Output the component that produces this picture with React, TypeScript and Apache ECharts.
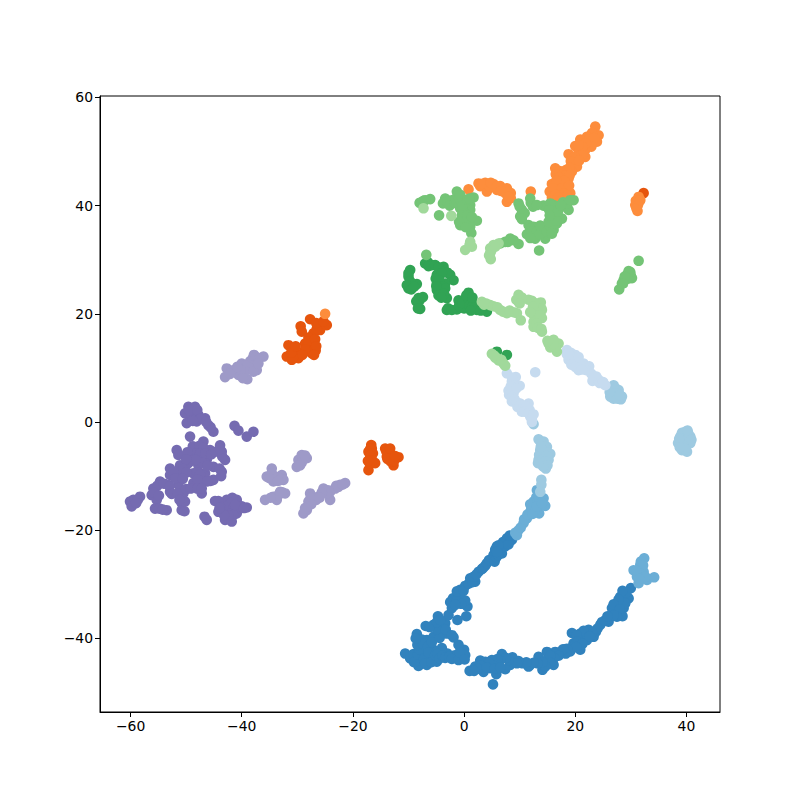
import React, { useEffect, useRef } from "react";
import * as echarts from "echarts";

const xTicks = [-60, -40, -20, 0, 20, 40];
const yTicks = [-40, -20, 0, 20, 40, 60];

const blueDark = [[30.0,-30.7],[28.1,-32.3],[29.6,-32.6],[26.6,-34.4],[28.7,-34.4],[27.5,-33.5],[26.3,-36.0],[28.5,-35.9],[27.2,-35.2],[24.5,-37.5],[26.0,-36.9],[23.3,-39.7],[22.4,-38.4],[20.9,-39.1],[19.4,-39.0],[22.1,-40.3],[19.7,-40.9],[20.9,-42.1],[19.1,-42.4],[21.0,-40.5],[17.6,-42.5],[16.4,-42.5],[14.9,-42.5],[13.4,-43.4],[16.1,-44.9],[14.1,-45.8],[14.9,-44.0],[11.9,-44.9],[10.5,-44.6],[8.7,-43.5],[6.8,-42.9],[8.3,-44.9],[6.2,-44.3],[7.4,-45.7],[5.3,-44.9],[5.8,-46.6],[5.2,-48.5],[3.8,-44.3],[2.9,-44.1],[3.5,-46.2],[2.0,-45.2],[1.0,-46.0],[4.7,-45.5],[11.6,-45.2],[0.0,-42.1],[0.2,-43.1],[-1.0,-41.2],[-0.4,-43.7],[-1.6,-43.1],[-1.9,-39.8],[-3.0,-42.8],[-4.0,-41.8],[-4.9,-44.3],[-6.7,-44.9],[-8.2,-45.1],[-6.1,-43.7],[-10.6,-42.8],[-9.7,-43.7],[-8.8,-44.3],[-7.6,-43.1],[-8.2,-40.9],[-8.5,-39.2],[-6.7,-40.3],[-5.5,-39.7],[-5.5,-42.1],[-4.0,-38.8],[-3.1,-39.1],[-6.9,-37.7],[-5.5,-37.5],[-4.0,-37.5],[-4.7,-35.9],[-3.4,-37.2],[-2.8,-35.7],[-1.2,-36.6],[0.4,-35.9],[0.6,-34.1],[-2.2,-34.4],[0.2,-33.0],[-2.0,-32.6],[-1.0,-32.0],[-0.7,-31.0],[0.2,-30.3],[1.1,-28.9],[2.0,-29.5],[2.6,-27.7],[3.8,-26.6],[5.3,-25.2],[5.9,-23.0],[5.3,-24.6],[6.8,-24.3],[7.7,-21.5],[7.4,-23.0],[8.6,-21.8],[-8.0,-42.5],[-7.0,-42.0],[-7.5,-41.5],
[29.2,-31.5],[28.5,-31.2],[29.0,-33.5],[27.8,-32.8],[27.0,-34.8],[26.9,-33.7],[28.0,-34.6],[27.5,-36.0],[26.9,-35.8],[25.3,-36.7],[24.8,-37.0],[25.8,-35.9],[23.7,-38.8],[24.0,-38.2],[23.0,-38.8],[22.0,-39.2],[21.5,-38.6],[20.2,-39.4],[20.3,-40.6],[21.3,-41.0],[22.6,-39.6],[19.5,-41.6],[20.2,-41.6],[18.5,-41.9],[18.3,-42.8],[17.8,-42.0],[17.0,-43.2],[16.2,-43.6],[15.5,-43.2],[15.5,-44.5],[14.6,-45.2],[14.1,-44.4],[13.2,-44.6],[12.5,-44.5],[11.2,-44.4],[9.8,-44.2],[9.5,-44.6],[8.0,-44.0],[7.5,-43.6],[6.5,-44.0],[6.0,-43.8],[5.0,-44.0],[4.5,-44.5],[3.0,-45.0],[2.6,-45.6],[4.1,-45.4],[5.5,-45.6],[6.5,-45.4],[1.8,-46.0],
[-9.1,-42.9],[-9.0,-44.4],[-8.3,-43.0],[-8.1,-42.0],[-8.4,-41.2],[-7.6,-40.2],[-7.4,-41.0],[-7.2,-43.8],[-7.0,-44.6],[-6.5,-41.5],[-6.4,-42.6],[-5.9,-44.4],[-5.8,-40.7],[-5.2,-43.1],[-4.8,-42.9],[-4.4,-43.7],[-3.9,-43.2],[-3.4,-43.6],[-2.7,-43.4],[-2.2,-43.8],[-1.0,-44.0],[-0.8,-42.6],[0.1,-43.9],[-8.7,-40.0],[-4.4,-39.9],[-4.9,-38.3],[-3.3,-38.4],[-6.2,-37.9],[-4.9,-37.0],[-4.3,-36.6],[-2.2,-39.4],
[-2.5,-33.3],[-1.3,-33.0],[-0.5,-33.6],[-1.6,-33.8],[-1.3,-31.3],[-0.1,-31.2],[0.8,-29.9],[1.5,-29.6],[1.7,-28.6],[2.2,-28.2],[3.2,-27.2],[3.4,-27.0],[4.1,-26.1],[4.5,-25.5],[5.5,-25.8],[5.8,-25.0],[6.1,-24.6],[5.6,-23.6],[6.3,-23.5],[6.6,-23.2],[7.0,-22.8],[7.0,-22.2],[8.0,-22.6],[8.2,-21.0],[6.2,-22.8],[5.9,-24.0]];
const blueMid = [[32.4,-25.2],[31.7,-26.4],[30.5,-27.4],[32.3,-27.7],[31.1,-28.6],[32.9,-29.2],[34.2,-28.7],[31.4,-29.8],[9.2,-20.5],[14.3,-14.1],[14.6,-15.5],[13.5,-16.9],[11.9,-15.2],[12.8,-15.0],[13.1,-12.6],[11.9,-16.6],[11.3,-17.8],[10.7,-18.7],[9.8,-20.0],
[9.5,-20.9],[10.2,-19.5],[10.8,-18.0],[11.4,-17.1],[12.1,-15.9],[12.5,-14.7],[13.0,-13.9],[13.5,-14.0],[13.9,-15.4],[12.9,-16.3],[12.3,-17.0],[13.1,-15.6],[14.0,-15.0],[31.8,-25.8],[32.2,-26.5],[31.4,-27.8],[32.0,-28.2],[32.6,-28.6],[31.0,-27.5],[31.5,-29.0]];
const blueLight = [[39.8,-1.8],[38.9,-2.7],[40.7,-2.7],[38.5,-3.9],[40.7,-3.9],[39.2,-5.2],[40.1,-5.5],[39.8,-3.3],[39.6,-4.6],[26.9,6.8],[27.8,5.9],[28.4,4.7],[28.2,4.2],[26.3,4.7],[27.2,5.0],[12.5,-0.4],[13.4,-3.2],[14.3,-3.6],[14.9,-4.6],[15.5,-5.9],[13.7,-5.2],[13.4,-7.0],[15.2,-7.0],[14.7,-8.6],[14.0,-7.6],[14.0,-6.1],[13.9,-10.7],[13.9,-11.6],[13.7,-12.9],
[39.2,-2.0],[40.3,-2.0],[39.2,-3.5],[40.1,-4.2],[39.0,-4.2],[40.4,-3.2],[40.2,-1.6],[38.7,-3.1],[39.8,-5.0],[38.8,-4.7],[40.9,-3.3],[26.6,6.1],[27.3,6.2],[27.6,5.3],[26.9,4.3],[27.6,4.3],[26.2,5.5],[28.0,5.0],[13.8,-3.8],[14.4,-4.6],[14.6,-5.4],[15.0,-5.6],[14.9,-6.3],[13.5,-6.1],[14.0,-7.0],[14.6,-7.3],[15.0,-8.0],[14.2,-8.2],[13.8,-4.6],[13.3,-7.6]];
const bluePale = [[18.5,13.3],[20.0,12.4],[18.8,11.5],[19.7,11.8],[20.6,9.6],[21.5,10.8],[22.5,10.3],[22.0,9.6],[23.3,8.4],[23.1,7.6],[25.4,6.8],[24.2,7.8],[12.8,9.2],[7.7,9.0],[9.3,8.3],[8.6,7.5],[10.0,6.7],[8.0,5.8],[8.9,5.3],[8.6,3.8],[10.1,3.4],[11.6,3.4],[10.4,1.9],[11.8,2.2],[11.9,1.0],[12.2,0.0],[9.6,2.8],
[19.2,12.8],[19.0,12.3],[20.3,11.3],[19.3,10.6],[20.0,10.2],[20.9,10.8],[21.2,9.7],[18.5,12.5],[20.6,12.0],[23.8,8.4],[24.4,7.2],[25.0,7.4],[22.9,8.9],[8.6,8.2],[8.9,6.8],[8.4,6.6],[9.4,6.2],[8.1,5.0],[8.6,4.6],[9.1,4.2],[9.5,3.6],[10.0,3.0],[10.7,3.0],[11.1,2.8],[11.4,2.4],[10.9,1.9],[11.6,1.6],[12.2,0.5],[12.5,1.4]];
const orangeDark = [[32.3,42.3],[-27.7,19.0],[-29.4,17.7],[-25.9,17.9],[-24.7,17.9],[-29.2,16.7],[-27.1,16.4],[-25.9,17.0],[-27.4,14.9],[-28.6,14.5],[-27.1,13.6],[-31.6,14.2],[-30.7,13.3],[-31.9,12.1],[-29.8,11.8],[-31.0,11.5],[-27.4,12.7],[-28.3,13.9],[-16.7,-4.25],[-17.2,-5.5],[-16.9,-6.7],[-17.2,-8.9],[-16.0,-7.6],[-14.2,-4.9],[-13.6,-5.5],[-13.0,-6.4],[-11.8,-6.5],[-12.7,-8.0],[-13.9,-6.4],[-17.0,-7.6],[-16.6,-4.9],
[-26.5,17.2],[-26.6,18.3],[-25.3,18.6],[-28.0,15.6],[-28.0,14.9],[-26.8,15.3],[-26.7,13.2],[-27.9,13.1],[-28.6,13.4],[-29.5,12.5],[-30.5,12.5],[-30.8,11.9],[-31.1,12.8],[-29.1,12.4],[-26.6,14.0],[-27.0,12.4],[-30.3,14.0],[-16.9,-5.0],[-16.4,-5.8],[-16.9,-6.2],[-16.5,-7.1],[-17.3,-7.2],[-14.0,-5.4],[-13.3,-4.9],[-13.8,-6.8],[-13.2,-7.3],[-12.6,-7.2],[-12.4,-6.3]];
const orangeMid = [[23.6,54.6],[24.2,53.0],[23.0,53.4],[22.1,52.7],[23.9,51.8],[22.7,51.5],[20.9,52.2],[20.0,51.0],[21.8,50.3],[20.6,49.7],[18.8,49.5],[21.8,49.0],[19.7,47.8],[20.3,47.2],[16.4,46.9],[17.9,46.3],[19.4,46.3],[17.6,45.0],[18.8,45.0],[15.8,44.0],[17.0,43.8],[18.5,43.5],[15.4,42.6],[17.3,42.6],[19.1,42.3],[15.8,41.5],[17.9,41.3],[2.6,44.1],[3.8,44.2],[5.3,44.0],[6.5,43.6],[7.7,43.2],[4.1,42.6],[5.9,42.9],[7.4,42.3],[8.4,42.3],[7.7,40.7],[0.8,43.0],[12.0,42.6],[31.4,41.6],[31.1,40.7],[30.8,40.1],[31.2,39.0],[-25.0,20.0],
[23.1,52.0],[22.5,52.2],[23.4,52.5],[22.9,50.9],[21.9,51.5],[21.3,50.9],[20.6,51.2],[21.2,49.3],[20.3,48.5],[19.9,49.0],[19.2,48.2],[19.0,47.0],[20.7,48.3],[18.4,46.6],[17.2,46.4],[16.5,45.8],[18.2,45.6],[19.0,45.6],[17.0,45.2],[18.0,44.6],[16.6,44.6],[16.0,43.2],[17.6,43.2],[18.9,43.7],[16.4,42.0],[18.0,42.2],[18.5,41.8],[16.9,41.5],[2.9,43.6],[3.2,44.0],[4.6,43.5],[4.8,44.2],[5.9,43.5],[7.2,43.0],[6.6,42.7],[8.4,41.4],[8.0,41.6],[30.9,40.9],[31.6,40.9],[31.3,40.2],[31.0,39.5],[31.7,41.0]];
const greenDark = [[-9.7,28.1],[-10.0,26.9],[-10.0,24.7],[-8.5,25.5],[-8.2,22.9],[-7.9,20.9],[-7.0,29.3],[-5.8,29.0],[-3.7,28.7],[-2.5,27.2],[-1.9,26.2],[-4.9,27.2],[-4.9,25.6],[-4.9,24.4],[-3.4,25.6],[-3.1,22.9],[0.8,23.9],[-1.0,22.5],[-3.1,20.7],[-1.3,20.8],[0.5,21.3],[2.3,20.7],[4.1,20.4],[1.4,22.5],[0.2,22.2],[7.7,12.4],[5.9,13.0],
[-10.0,27.5],[-9.7,26.0],[-10.3,25.3],[-9.5,24.5],[-9.0,25.0],[-8.0,22.5],[-8.6,22.3],[-7.4,23.1],[-8.3,21.0],[-6.5,29.5],[-6.4,28.8],[-5.2,29.0],[-4.6,28.6],[-3.5,27.9],[-3.0,27.6],[-4.0,27.5],[-5.1,26.5],[-4.5,26.2],[-3.9,25.0],[-3.4,24.7],[-5.0,25.1],[-4.6,23.4],[-3.6,23.7],[-4.1,23.0],[-2.9,21.0],[-2.2,20.7],[-0.6,21.2],[-0.9,21.5],[0.0,21.0],[-0.3,22.0],[0.8,22.7],[1.0,21.5],[1.6,21.5],[2.0,21.2],[1.2,20.6],[3.0,20.6],[0.4,23.4],[1.5,23.0]];
const greenMid = [[-6.8,30.9],[-6.1,41.2],[-7.3,40.9],[-8.0,40.5],[-4.5,38.2],[-3.4,41.3],[-1.3,42.6],[-2.2,41.0],[-0.4,41.0],[1.7,41.5],[1.1,40.1],[-0.7,39.5],[1.1,39.2],[-0.1,37.3],[0.8,37.0],[2.3,37.2],[-0.7,36.4],[1.1,36.1],[1.3,34.9],[6.5,33.0],[8.3,33.9],[9.8,32.9],[7.4,33.3],[9.8,40.4],[10.4,39.2],[10.1,38.0],[11.9,41.3],[12.4,39.8],[11.6,36.4],[11.3,34.7],[12.5,36.1],[12.8,33.9],[13.5,31.7],[14.3,35.8],[14.6,33.9],[16.1,35.5],[16.7,36.7],[16.1,38.0],[17.6,37.6],[16.4,39.5],[14.3,40.0],[16.1,40.1],[18.2,39.8],[19.7,41.0],[18.8,39.2],[31.4,29.8],[29.9,27.7],[29.3,27.2],[28.7,26.2],[30.2,26.6],[28.4,25.6],[27.9,24.5],
[-7.0,41.0],[-7.6,40.6],[-3.8,40.4],[-3.0,40.7],[-2.6,40.0],[-1.7,40.5],[-1.5,41.3],[-0.9,41.4],[-0.7,42.0],[0.0,40.4],[-0.4,38.2],[-0.1,38.8],[0.6,38.2],[-0.3,40.0],[0.6,41.1],[1.0,41.3],[0.0,36.9],[-0.9,37.0],[0.3,36.0],[1.4,37.9],[10.0,39.8],[10.9,38.6],[10.4,37.5],[12.0,40.5],[11.9,35.7],[12.2,35.2],[13.1,35.2],[11.9,34.0],[13.6,34.7],[13.7,36.3],[14.9,35.2],[15.5,36.2],[15.8,34.8],[15.2,37.0],[16.6,37.2],[15.5,40.4],[15.3,39.2],[16.9,38.9],[17.8,40.6],[18.6,40.4],[19.1,41.0],[17.4,40.1],[13.1,40.1],[15.4,38.2],[7.9,33.3],[8.9,33.6],[30.0,27.0],[29.6,27.9],[29.5,26.5],[28.9,26.9],[28.6,25.6]];
const greenLight = [[-7.3,39.5],[-2.3,38.1],[1.1,33.3],[1.4,32.4],[0.2,31.8],[5.3,32.7],[4.7,32.1],[4.7,31.2],[4.8,30.1],[6.2,33.0],[3.2,22.2],[4.7,21.6],[6.5,20.7],[7.7,20.1],[9.5,20.1],[10.2,18.8],[9.8,23.5],[9.8,22.2],[11.6,22.6],[13.4,21.6],[14.0,20.7],[13.1,20.1],[14.0,19.2],[12.5,18.5],[14.0,16.7],[12.5,17.6],[15.2,14.5],[16.1,15.2],[17.0,14.5],[16.7,13.0],[15.5,13.8],[5.0,12.6],[5.9,11.8],[7.1,10.8],[7.4,10.4],
[4.0,21.9],[3.6,21.7],[5.3,21.4],[6.0,21.2],[7.0,20.4],[8.2,20.6],[8.9,20.3],[10.4,23.0],[9.4,22.6],[10.0,21.9],[12.2,22.4],[12.7,22.0],[13.8,22.1],[13.9,21.0],[12.5,20.7],[12.4,21.3],[12.5,19.8],[13.4,19.0],[13.7,19.7],[13.0,18.2],[11.9,20.3],[13.3,17.4],[13.9,17.2],[15.7,14.2],[16.4,13.8],[16.1,14.4],[15.0,15.0],[5.6,11.9],[6.2,11.4],[6.7,11.5],[5.4,12.3],[1.0,32.8],[4.9,31.7],[5.6,32.4],[4.5,30.8]];
const purpleDark = [[-49.6,2.8],[-48.4,2.8],[-50.2,1.6],[-49.0,1.3],[-47.8,1.3],[-46.6,0.7],[-49.9,-0.2],[-48.1,0.1],[-46.0,-0.6],[-45.1,-1.8],[-49.3,-2.7],[-46.9,-3.6],[-41.3,-0.7],[-40.6,-1.6],[-39.1,-2.7],[-37.9,-1.8],[-51.7,-5.2],[-51.4,-6.1],[-48.7,-5.2],[-47.2,-5.2],[-45.7,-5.2],[-43.9,-4.3],[-43.6,-5.5],[-43.0,-7.0],[-49.3,-6.4],[-47.8,-6.4],[-46.3,-7.0],[-45.1,-8.3],[-52.9,-8.6],[-51.1,-8.0],[-49.6,-7.6],[-47.8,-8.0],[-52.9,-9.8],[-51.4,-9.8],[-48.7,-9.5],[-46.6,-9.5],[-43.6,-9.2],[-54.7,-11.0],[-55.9,-12.3],[-53.2,-11.6],[-51.4,-11.6],[-48.7,-11.3],[-47.2,-11.0],[-45.1,-10.7],[-56.2,-13.5],[-55.3,-14.4],[-52.9,-12.9],[-50.5,-13.2],[-47.2,-13.2],[-50.8,-15.0],[-50.8,-16.3],[-58.3,-13.8],[-59.5,-14.4],[-60.1,-14.7],[-59.8,-15.6],[-55.6,-16.0],[-53.5,-16.3],[-44.8,-14.6],[-46.7,-17.5],[-46.3,-18.1],[-42.7,-14.4],[-40.9,-14.4],[-39.1,-15.8],[-44.2,-16.6],[-42.7,-16.3],[-41.2,-16.0],[-43.0,-18.1],[-41.8,-18.4],[-40.9,-16.9],[-42.4,-15.4],[-40.0,-15.6],
[-48.9,1.9],[-49.5,2.2],[-48.0,2.2],[-47.4,0.6],[-48.8,0.2],[-45.6,-1.0],[-46.4,0.0],[-48.8,-4.5],[-47.6,-4.4],[-46.9,-4.8],[-48.2,-5.8],[-47.5,-5.9],[-46.5,-5.8],[-49.8,-5.6],[-45.5,-6.0],[-44.7,-5.5],[-43.5,-6.4],[-43.9,-5.0],[-48.8,-7.1],[-47.0,-7.6],[-46.2,-8.1],[-48.3,-7.0],[-50.0,-6.9],[-50.5,-8.7],[-49.9,-9.3],[-52.3,-9.2],[-51.9,-10.4],[-50.6,-10.5],[-47.9,-9.3],[-47.5,-9.7],[-47.9,-10.6],[-44.0,-8.6],[-43.7,-10.0],[-45.6,-10.9],[-46.2,-11.0],[-55.2,-11.8],[-54.0,-11.4],[-55.8,-13.1],[-54.9,-13.6],[-53.0,-11.9],[-52.6,-13.3],[-51.5,-13.2],[-50.0,-12.4],[-49.2,-12.3],[-48.0,-12.3],[-47.2,-12.3],[-50.2,-14.7],[-51.2,-14.4],[-50.3,-16.5],[-58.7,-14.4],[-59.0,-15.0],[-54.8,-16.0],[-54.2,-16.2],[-44.2,-14.6],[-41.7,-14.0],[-42.0,-15.0],[-41.5,-17.2],[-43.3,-15.6],[-43.8,-15.8],[-42.4,-17.3],[-43.2,-17.2],[-41.2,-15.3],[-39.6,-15.9],[-44.0,-15.9]];
const purpleMid = [[-37.8,12.4],[-36.1,12.1],[-38.5,11.2],[-40.0,10.8],[-42.7,9.9],[-41.2,9.6],[-38.5,9.9],[-43.0,8.3],[-40.6,8.7],[-39.0,7.9],[-37.3,9.6],[-39.4,10.5],[-29.2,-6.1],[-28.3,-6.7],[-29.8,-7.0],[-30.1,-8.3],[-34.6,-8.6],[-35.5,-10.1],[-34.0,-10.1],[-32.8,-9.8],[-32.5,-10.7],[-34.3,-11.0],[-33.1,-12.9],[-32.2,-13.2],[-34.3,-13.8],[-35.8,-14.4],[-33.7,-14.4],[-21.4,-11.3],[-22.3,-11.6],[-23.2,-12.3],[-25.3,-12.3],[-24.1,-12.9],[-24.1,-14.4],[-27.7,-13.2],[-26.2,-13.8],[-28.0,-14.7],[-28.3,-16.3],[-28.9,-16.9],[-27.1,-14.4],
[-38.9,10.5],[-38.0,11.8],[-37.4,12.0],[-39.4,9.4],[-40.2,9.6],[-41.8,9.5],[-42.1,8.9],[-39.8,8.1],[-37.9,9.3],[-36.9,11.7],[-37.0,10.8],[-40.8,10.2],[-29.0,-6.7],[-29.2,-7.5],[-28.6,-6.2],[-29.5,-8.0],[-34.6,-9.5],[-35.0,-10.4],[-33.4,-10.2],[-33.0,-10.7],[-33.5,-10.9],[-33.4,-13.5],[-34.8,-14.0],[-32.7,-13.0],[-23.0,-11.8],[-22.6,-12.0],[-24.5,-12.6],[-24.7,-13.2],[-25.6,-13.0],[-26.6,-14.4],[-27.6,-14.0],[-27.5,-15.2],[-28.1,-15.6],[-28.6,-15.9],[-26.0,-14.0],[-21.9,-11.6]];

const seriesData: [number[][], string][] = [
  [blueDark, "#3182bd"],
  [blueMid, "#6baed6"],
  [blueLight, "#9ecae1"],
  [bluePale, "#c6dbef"],
  [orangeDark, "#e6550d"],
  [orangeMid, "#fd8d3c"],
  [greenDark, "#31a354"],
  [greenMid, "#74c476"],
  [greenLight, "#a1d99b"],
  [purpleDark, "#756bb1"],
  [purpleMid, "#9e9ac8"],
];

const fmt = (v: number) => String(v).replace("-", "\u2212");

export default function App() {
  const ref = useRef<HTMLDivElement>(null);
  useEffect(() => {
    const chart = echarts.init(ref.current!, null, { renderer: "svg" });
    const axis = (ticks: number[], min: number, max: number) => ({
      type: "value",
      min,
      max,
      splitLine: { show: false },
      axisLine: { show: true, onZero: false, lineStyle: { color: "#000", width: 1 } },
      axisTick: { show: true, customValues: ticks, length: 5, lineStyle: { color: "#000", width: 1 } },
      axisLabel: {
        show: true,
        customValues: ticks,
        formatter: fmt,
        color: "#000",
        fontFamily: "DejaVu Sans",
        fontSize: 13.9,
        margin: 7,
        hideOverlap: false,
      },
    });
    chart.setOption({
      animation: false,
      backgroundColor: "#fff",
      grid: { left: 100, top: 96, width: 620, height: 616, show: true, borderColor: "#000", borderWidth: 1, backgroundColor: "transparent" },
      xAxis: axis(xTicks, -65.5, 46.04),
      yAxis: axis(yTicks, -53.6, 60.26),
      series: seriesData.map(([data, color]) => ({
        type: "scatter",
        data,
        symbol: "circle",
        symbolSize: 10.6,
        itemStyle: { color, opacity: 1 },
        silent: true,
      })),
    });
    return () => chart.dispose();
  }, []);
  return <div ref={ref} style={{ position: "fixed", left: 0, top: 0, width: 800, height: 800 }} />;
}
